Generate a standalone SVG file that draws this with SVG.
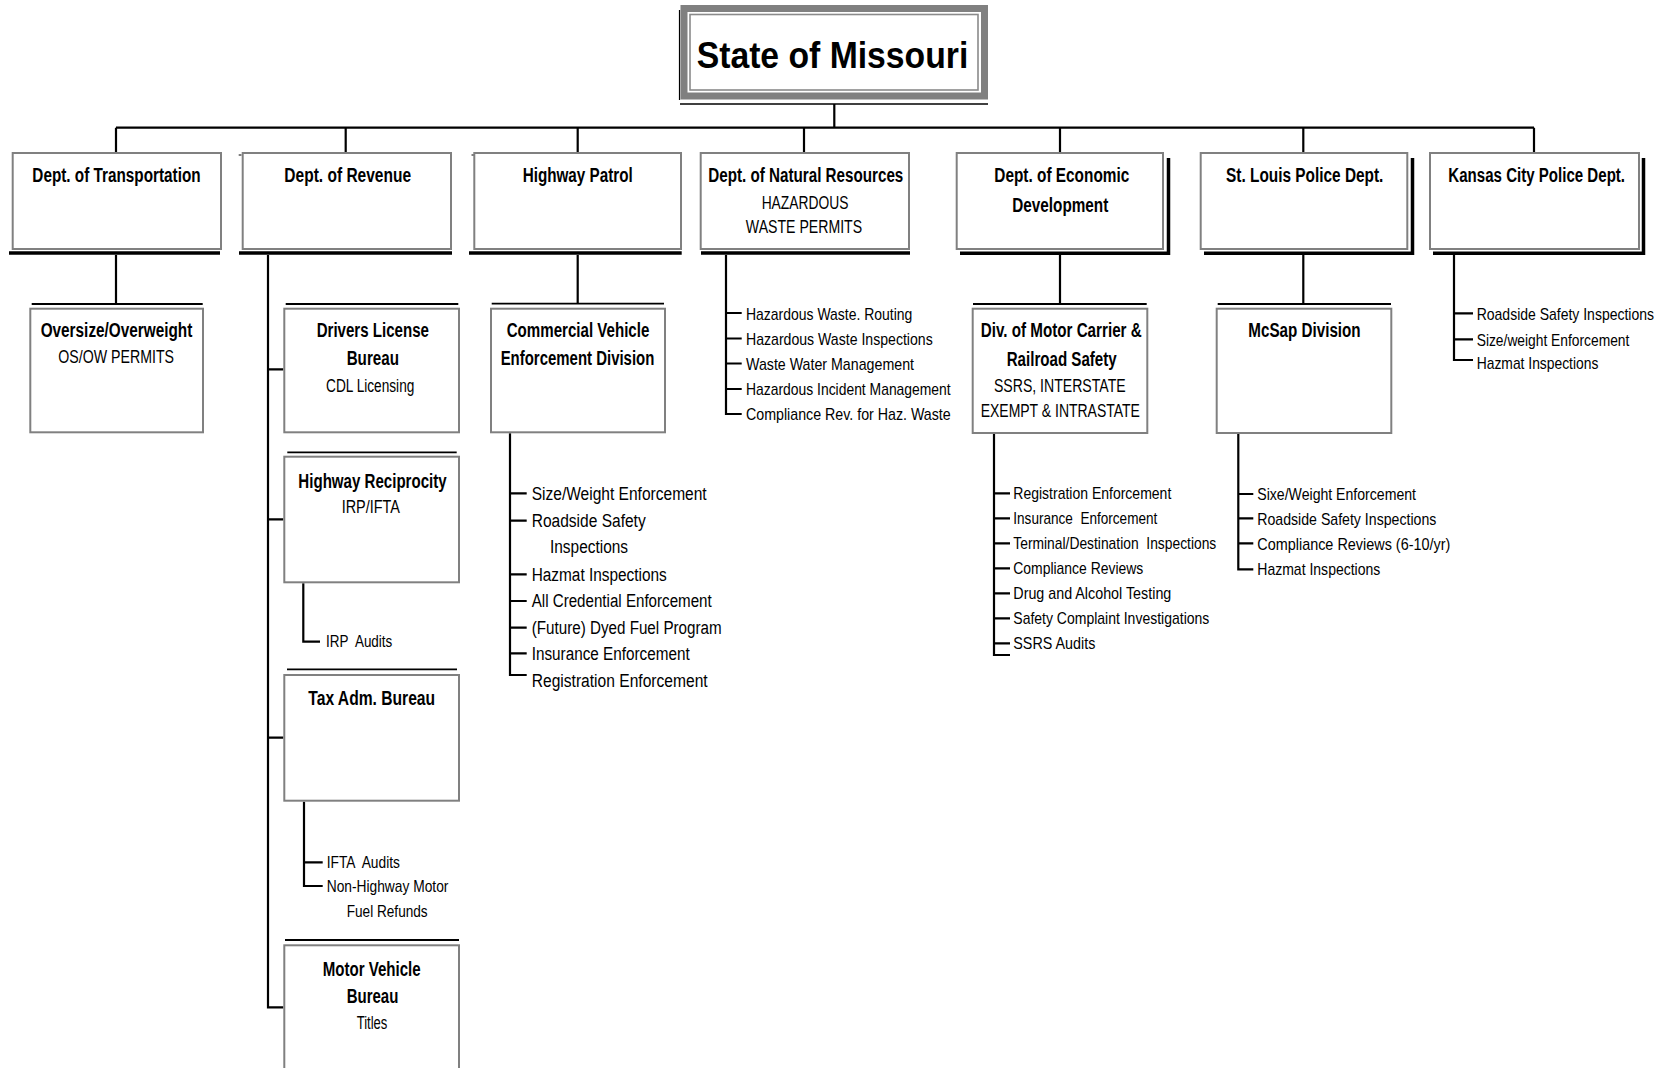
<svg xmlns="http://www.w3.org/2000/svg" width="1675" height="1068" viewBox="0 0 1675 1068">
<style>
.box{fill:#fff;stroke:#808080;stroke-width:2}
.ln{stroke:#000;stroke-width:2.2;fill:none}
.tl{stroke:#000;stroke-width:1.8;fill:none}
.sh{stroke:#000;stroke-width:3.5;fill:none}
text{font-family:"Liberation Sans",Arial,sans-serif;fill:#000}
.h{font-weight:bold;font-size:20px;text-anchor:middle}
.s{font-size:18px;text-anchor:middle}
.li{font-size:17px}
.lh{font-size:18px}
</style>
<rect width="1675" height="1068" fill="#fff"/>

<g id="connectors">
<path class="ln" d="M116 127.7H1534M834.3 104V127.7M116 127.7V152M345.7 127.7V152M577.7 127.7V152M804 127.7V152M1060 127.7V152M1303.3 127.7V152M1534 127.7V152"/>
<path class="ln" d="M116 255V304M577.7 255V304M1060 255V304M1303.3 255V304"/>
<path class="ln" d="M268 255V1007.3H283.3M268 369.3H283.3M268 519.3H283.3M268 737.7H283.3"/>
<path class="ln" d="M726 255V414H741.7M726 313H741.7M726 338.5H741.7M726 363.5H741.7M726 389H741.7"/>
<path class="ln" d="M1454 255V360H1473M1454 313.3H1473M1454 339.3H1473"/>
<path class="ln" d="M510 433.3V675H526.7M510 493.3H526.7M510 520.7H526.7M510 574.3H526.7M510 601H526.7M510 627.7H526.7M510 653.3H526.7"/>
<path class="ln" d="M994 434V655H1010M994 493.3H1010M994 518.3H1010M994 543.3H1010M994 568.3H1010M994 593.3H1010M994 618.3H1010M994 643.3H1010"/>
<path class="ln" d="M1238.3 434V569.3H1253.3M1238.3 494H1253.3M1238.3 518.3H1253.3M1238.3 543.3H1253.3"/>
<path class="ln" d="M303.3 583.3V641.7H320M304 801.7V886H322.7M304 862.3H322.7"/>
</g>

<g id="state">
<rect x="684" y="8.5" width="300.5" height="87.5" fill="#fff" stroke="#808080" stroke-width="7"/>
<rect x="690" y="14.5" width="288" height="75.5" fill="none" stroke="#8a8a8a" stroke-width="1.6"/>
<path d="M679.5 10V100" stroke="#000" stroke-width="1.2"/>
<path d="M680 104H988" stroke="#000" stroke-width="1.5"/>
<text class="h" x="832.5" y="68.3" style="font-size:37px" textLength="271.6" lengthAdjust="spacingAndGlyphs">State of Missouri</text>
</g>

<g id="dot">
<path class="sh" d="M9 253H220"/>
<rect class="box" x="12.7" y="153" width="208.3" height="96"/>
<text class="h" x="116.5" y="181.7" textLength="168.3" lengthAdjust="spacingAndGlyphs">Dept. of Transportation</text>
</g>
<g id="revenue">
<path class="sh" d="M239 253H452"/>
<path d="M238.7 155H241.5" stroke="#000" stroke-width="1"/>
<rect class="box" x="242.7" y="153" width="208.3" height="96"/>
<text class="h" x="347.7" y="181.7" textLength="126.7" lengthAdjust="spacingAndGlyphs">Dept. of Revenue</text>
</g>
<g id="patrol">
<path class="sh" d="M469 253H681.7"/>
<path d="M471.5 155H474" stroke="#000" stroke-width="1"/>
<rect class="box" x="474.3" y="153" width="206.7" height="96"/>
<text class="h" x="577.7" y="181.7" textLength="110" lengthAdjust="spacingAndGlyphs">Highway Patrol</text>
</g>
<g id="natres">
<path class="sh" d="M701 253H910"/>
<rect class="box" x="700.7" y="153" width="208.3" height="96"/>
<text class="h" x="805.8" y="181.7" textLength="195" lengthAdjust="spacingAndGlyphs">Dept. of Natural Resources</text>
<text class="s" x="805" y="209" textLength="86.7" lengthAdjust="spacingAndGlyphs">HAZARDOUS</text>
<text class="s" x="804" y="233" textLength="116.3" lengthAdjust="spacingAndGlyphs">WASTE PERMITS</text>
</g>
<g id="econ">
<path class="sh" d="M960 253.3H1170M1168.5 158V255"/>
<rect class="box" x="956.7" y="153" width="206.3" height="96"/>
<text class="h" x="1061.8" y="181.7" textLength="135" lengthAdjust="spacingAndGlyphs">Dept. of Economic</text>
<text class="h" x="1060.3" y="211.7" textLength="96" lengthAdjust="spacingAndGlyphs">Development</text>
</g>
<g id="stlouis">
<path class="sh" d="M1204 253.3H1414M1412.5 158V255"/>
<rect class="box" x="1200.7" y="153" width="206.6" height="96"/>
<text class="h" x="1304.7" y="181.7" textLength="157.3" lengthAdjust="spacingAndGlyphs">St. Louis Police Dept.</text>
</g>
<g id="kansas">
<path class="sh" d="M1433 253.3H1645M1643.5 158V255"/>
<rect class="box" x="1430" y="153" width="209" height="96"/>
<text class="h" x="1536.7" y="181.7" textLength="176.7" lengthAdjust="spacingAndGlyphs">Kansas City Police Dept.</text>
</g>

<g id="oversize">
<path class="tl" d="M31.7 304H202.7"/>
<rect class="box" x="30.3" y="308.7" width="172.7" height="123.6"/>
<text class="h" x="116.5" y="336.7" textLength="151.7" lengthAdjust="spacingAndGlyphs">Oversize/Overweight</text>
<text class="s" x="116.2" y="363.3" textLength="115.7" lengthAdjust="spacingAndGlyphs">OS/OW PERMITS</text>
</g>
<g id="drivers">
<path class="tl" d="M285.7 304H458.3"/>
<rect class="box" x="284.3" y="308.7" width="174.7" height="123.6"/>
<text class="h" x="372.8" y="336.7" textLength="112.3" lengthAdjust="spacingAndGlyphs">Drivers License</text>
<text class="h" x="372.8" y="365" textLength="52.3" lengthAdjust="spacingAndGlyphs">Bureau</text>
<text class="s" x="370.2" y="391.7" textLength="88.3" lengthAdjust="spacingAndGlyphs">CDL Licensing</text>
</g>
<g id="reciprocity">
<path class="tl" d="M287.3 452.3H456.7"/>
<rect class="box" x="284.3" y="456.7" width="174.7" height="125.6"/>
<text class="h" x="372.5" y="488.3" textLength="148.3" lengthAdjust="spacingAndGlyphs">Highway Reciprocity</text>
<text class="s" x="370.8" y="513.3" textLength="58.3" lengthAdjust="spacingAndGlyphs">IRP/IFTA</text>
</g>
<g id="irp-items">
<text class="li" x="326" y="647.3" xml:space="preserve" textLength="66.3" lengthAdjust="spacingAndGlyphs">IRP  Audits</text>
</g>
<g id="tax">
<path class="tl" d="M287 669.3H457"/>
<rect class="box" x="284.3" y="675" width="174.7" height="125.7"/>
<text class="h" x="371.7" y="705" textLength="126.7" lengthAdjust="spacingAndGlyphs">Tax Adm. Bureau</text>
</g>
<g id="tax-items">
<text class="li" x="326.7" y="867.7" xml:space="preserve" textLength="73.3" lengthAdjust="spacingAndGlyphs">IFTA  Audits</text>
<text class="li" x="326.7" y="891.7" textLength="121.7" lengthAdjust="spacingAndGlyphs">Non-Highway Motor</text>
<text class="li" x="346.7" y="917.3" textLength="81" lengthAdjust="spacingAndGlyphs">Fuel Refunds</text>
</g>
<g id="motorvehicle">
<path class="tl" d="M285 940H459"/>
<rect class="box" x="284.3" y="945.3" width="174.7" height="140"/>
<text class="h" x="371.7" y="976" textLength="98" lengthAdjust="spacingAndGlyphs">Motor Vehicle</text>
<text class="h" x="372.5" y="1003.3" textLength="51.7" lengthAdjust="spacingAndGlyphs">Bureau</text>
<text class="s" x="372" y="1029.3" textLength="30.7" lengthAdjust="spacingAndGlyphs">Titles</text>
</g>
<g id="cved">
<path class="tl" d="M491.7 303.7H664"/>
<rect class="box" x="491" y="308.7" width="174" height="123.6"/>
<text class="h" x="578" y="336.7" textLength="142.7" lengthAdjust="spacingAndGlyphs">Commercial Vehicle</text>
<text class="h" x="577.5" y="365" textLength="153.7" lengthAdjust="spacingAndGlyphs">Enforcement Division</text>
</g>
<g id="motorcarrier">
<path class="tl" d="M973 304H1146.7"/>
<rect class="box" x="972.7" y="308.7" width="174.6" height="124.3"/>
<text class="h" x="1061.2" y="337.3" textLength="161" lengthAdjust="spacingAndGlyphs">Div. of Motor Carrier &amp;</text>
<text class="h" x="1061.7" y="366" textLength="110" lengthAdjust="spacingAndGlyphs">Railroad Safety</text>
<text class="s" x="1059.8" y="391.7" textLength="131.7" lengthAdjust="spacingAndGlyphs">SSRS, INTERSTATE</text>
<text class="s" x="1060.3" y="417.3" textLength="159.3" lengthAdjust="spacingAndGlyphs">EXEMPT &amp; INTRASTATE</text>
</g>
<g id="mcsap">
<path class="tl" d="M1217.7 304H1391"/>
<rect class="box" x="1216.7" y="308.7" width="174.6" height="124.3"/>
<text class="h" x="1304.5" y="337.3" textLength="112.3" lengthAdjust="spacingAndGlyphs">McSap Division</text>
</g>

<g id="natres-items">
<text class="li" x="746" y="320" textLength="166.3" lengthAdjust="spacingAndGlyphs">Hazardous Waste. Routing</text>
<text class="li" x="746" y="345" textLength="186.7" lengthAdjust="spacingAndGlyphs">Hazardous Waste Inspections</text>
<text class="li" x="746" y="369.5" textLength="168" lengthAdjust="spacingAndGlyphs">Waste Water Management</text>
<text class="li" x="746" y="395" textLength="204.7" lengthAdjust="spacingAndGlyphs">Hazardous Incident Management</text>
<text class="li" x="746" y="419.5" textLength="204.7" lengthAdjust="spacingAndGlyphs">Compliance Rev. for Haz. Waste</text>
</g>
<g id="kansas-items">
<text class="li" x="1476.7" y="320" textLength="177.3" lengthAdjust="spacingAndGlyphs">Roadside Safety Inspections</text>
<text class="li" x="1476.7" y="346" textLength="152.7" lengthAdjust="spacingAndGlyphs">Size/weight Enforcement</text>
<text class="li" x="1476.7" y="368.5" textLength="121.7" lengthAdjust="spacingAndGlyphs">Hazmat Inspections</text>
</g>
<g id="patrol-items">
<text class="lh" x="531.7" y="500" textLength="175" lengthAdjust="spacingAndGlyphs">Size/Weight Enforcement</text>
<text class="lh" x="531.7" y="526.7" textLength="114" lengthAdjust="spacingAndGlyphs">Roadside Safety</text>
<text class="lh" x="550" y="553.3" textLength="78" lengthAdjust="spacingAndGlyphs">Inspections</text>
<text class="lh" x="531.7" y="580.7" textLength="135" lengthAdjust="spacingAndGlyphs">Hazmat Inspections</text>
<text class="lh" x="531.7" y="606.7" textLength="180" lengthAdjust="spacingAndGlyphs">All Credential Enforcement</text>
<text class="lh" x="531.7" y="634" textLength="190" lengthAdjust="spacingAndGlyphs">(Future) Dyed Fuel Program</text>
<text class="lh" x="531.7" y="660" textLength="158" lengthAdjust="spacingAndGlyphs">Insurance Enforcement</text>
<text class="lh" x="531.7" y="686.7" textLength="176" lengthAdjust="spacingAndGlyphs">Registration Enforcement</text>
</g>
<g id="econ-items">
<text class="li" x="1013.3" y="499.3" textLength="158" lengthAdjust="spacingAndGlyphs">Registration Enforcement</text>
<text class="li" x="1013.3" y="524.3" xml:space="preserve" textLength="144" lengthAdjust="spacingAndGlyphs">Insurance  Enforcement</text>
<text class="li" x="1013.3" y="549.3" xml:space="preserve" textLength="203" lengthAdjust="spacingAndGlyphs">Terminal/Destination  Inspections</text>
<text class="li" x="1013.3" y="574.3" textLength="130" lengthAdjust="spacingAndGlyphs">Compliance Reviews</text>
<text class="li" x="1013.3" y="599.3" textLength="158" lengthAdjust="spacingAndGlyphs">Drug and Alcohol Testing</text>
<text class="li" x="1013.3" y="624.3" textLength="196" lengthAdjust="spacingAndGlyphs">Safety Complaint Investigations</text>
<text class="li" x="1013.3" y="649.3" textLength="82" lengthAdjust="spacingAndGlyphs">SSRS Audits</text>
</g>
<g id="stlouis-items">
<text class="li" x="1257.3" y="500" textLength="158.7" lengthAdjust="spacingAndGlyphs">Sixe/Weight Enforcement</text>
<text class="li" x="1257.3" y="524.5" textLength="179" lengthAdjust="spacingAndGlyphs">Roadside Safety Inspections</text>
<text class="li" x="1257.3" y="549.5" textLength="193" lengthAdjust="spacingAndGlyphs">Compliance Reviews (6-10/yr)</text>
<text class="li" x="1257.3" y="575" textLength="123" lengthAdjust="spacingAndGlyphs">Hazmat Inspections</text>
</g>
</svg>
